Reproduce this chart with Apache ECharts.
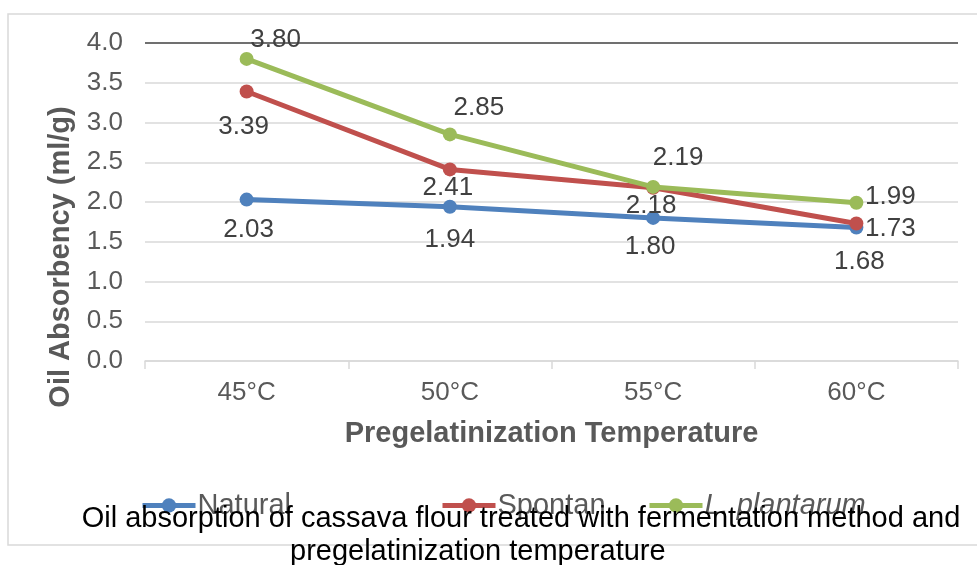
<!DOCTYPE html>
<html>
<head>
<meta charset="utf-8">
<script src="https://cdn.jsdelivr.net/npm/echarts@6/dist/echarts.min.js"></script>
<style>
  html, body { margin: 0; padding: 0; background: #ffffff; }
  #chart { width: 977px; height: 565px; }
</style>
</head>
<body>
<div id="chart"></div>
<script>
// Pregelatinization temperatures (x categories)
const categories = ['45°C', '50°C', '55°C', '60°C'];

// Oil absorbency (ml/g) per fermentation method
const natural = [2.03, 1.94, 1.80, 1.68];
const spontan = [3.39, 2.41, 2.18, 1.73];
const plantarum = [3.80, 2.85, 2.19, 1.99];

const seriesNames = ['Natural', 'Spontan', 'L. plantarum'];
const yTicks = { min: 0, max: 4, interval: 0.5 };

const titleLines = [
  'Oil absorption of cassava flour treated with fermentation method and',
  'pregelatinization temperature'
];

const FONT = '"Liberation Sans", Arial, sans-serif';
const colors = ['#4F81BD', '#C0504D', '#9BBB59'];

// Label placement relative to each point (centre-anchored offsets)
const labelOffsets = [
  [[2, 30], [0, 33], [-3, 29], [3, 34]],
  [[-3, 35], [-2, 18], [-2, 18], [34, 5]],
  [[29, -19], [29, -27], [25, -29], [34, -6]]
];

// Horizontal start of each legend entry
const legendLefts = [140, 440, 647];

function buildSeries(name, values, idx) {
  return {
    name: name,
    type: 'line',
    data: values.map((v, i) => ({
      value: v,
      label: { position: 'inside', offset: labelOffsets[idx][i] }
    })),
    symbol: 'circle',
    symbolSize: 14,
    lineStyle: { width: 5, color: colors[idx] },
    itemStyle: { color: colors[idx] },
    label: {
      show: true,
      formatter: p => p.value.toFixed(2),
      fontFamily: FONT,
      fontSize: 26,
      color: '#404040'
    },
    z: 3 + idx
  };
}

function buildLegend(idx) {
  const item = { name: seriesNames[idx] };
  if (idx === 2) item.textStyle = { fontStyle: 'italic' };
  return {
    left: legendLefts[idx],
    top: 491,
    padding: 0,
    itemWidth: 53,
    itemHeight: 18,
    itemGap: 0,
    lineStyle: { width: 5 },
    textStyle: { fontFamily: FONT, fontSize: 29, color: '#595959', padding: [0, 0, 0, -3] },
    data: [item]
  };
}

const chart = echarts.init(document.getElementById('chart'), null, { renderer: 'canvas' });

// One colour per split line (0.0 … 4.0); the top line is drawn dark
const splitColors = [];
for (let v = yTicks.min; v <= yTicks.max + 1e-9; v += yTicks.interval) {
  splitColors.push(Math.abs(v - yTicks.max) < 1e-9 ? '#404040' : '#d9d9d9');
}

chart.setOption({
  animation: false,
  backgroundColor: '#ffffff',
  color: colors,
  graphic: [
    {
      type: 'rect',
      shape: { x: 8, y: 14, width: 980, height: 531 },
      style: { fill: 'none', stroke: '#d9d9d9', lineWidth: 1.5 },
      z: -10
    },
    {
      type: 'text',
      x: 521,
      y: 504,
      style: {
        text: titleLines[0],
        font: '29px ' + FONT,
        fill: '#000000',
        align: 'center',
        verticalAlign: 'top'
      },
      z: 100
    },
    {
      type: 'text',
      x: 290,
      y: 537,
      style: {
        text: titleLines[1],
        font: '29px ' + FONT,
        fill: '#000000',
        align: 'left',
        verticalAlign: 'top'
      },
      z: 100
    }
  ],
  grid: { left: 145, right: 19, top: 43, bottom: 204, containLabel: false },
  legend: [buildLegend(0), buildLegend(1), buildLegend(2)],
  xAxis: {
    type: 'category',
    data: categories,
    boundaryGap: true,
    name: 'Pregelatinization Temperature',
    nameLocation: 'middle',
    nameGap: 58,
    nameTextStyle: { fontFamily: FONT, fontSize: 29, fontWeight: 'bold', color: '#595959' },
    axisLine: { lineStyle: { color: '#d9d9d9', width: 1.5 } },
    axisTick: { show: true, length: 8, lineStyle: { color: '#d9d9d9', width: 1.5 } },
    axisLabel: { fontFamily: FONT, fontSize: 26, color: '#595959', margin: 19 },
    splitLine: { show: false }
  },
  yAxis: {
    type: 'value',
    min: yTicks.min,
    max: yTicks.max,
    interval: yTicks.interval,
    name: 'Oil Absorbency (ml/g)',
    nameLocation: 'middle',
    nameRotate: 90,
    nameGap: 70,
    nameTextStyle: { fontFamily: FONT, fontSize: 29, fontWeight: 'bold', color: '#595959', padding: [0, 0, 0, -110] },
    axisLine: { show: false },
    axisTick: { show: false },
    axisLabel: {
      fontFamily: FONT, fontSize: 26, color: '#595959', margin: 22,
      formatter: v => v.toFixed(1)
    },
    splitLine: { show: true, lineStyle: { color: splitColors, width: 1.5 } }
  },
  series: [
    buildSeries(seriesNames[0], natural, 0),
    buildSeries(seriesNames[1], spontan, 1),
    buildSeries(seriesNames[2], plantarum, 2)
  ]
});
</script>
</body>
</html>
